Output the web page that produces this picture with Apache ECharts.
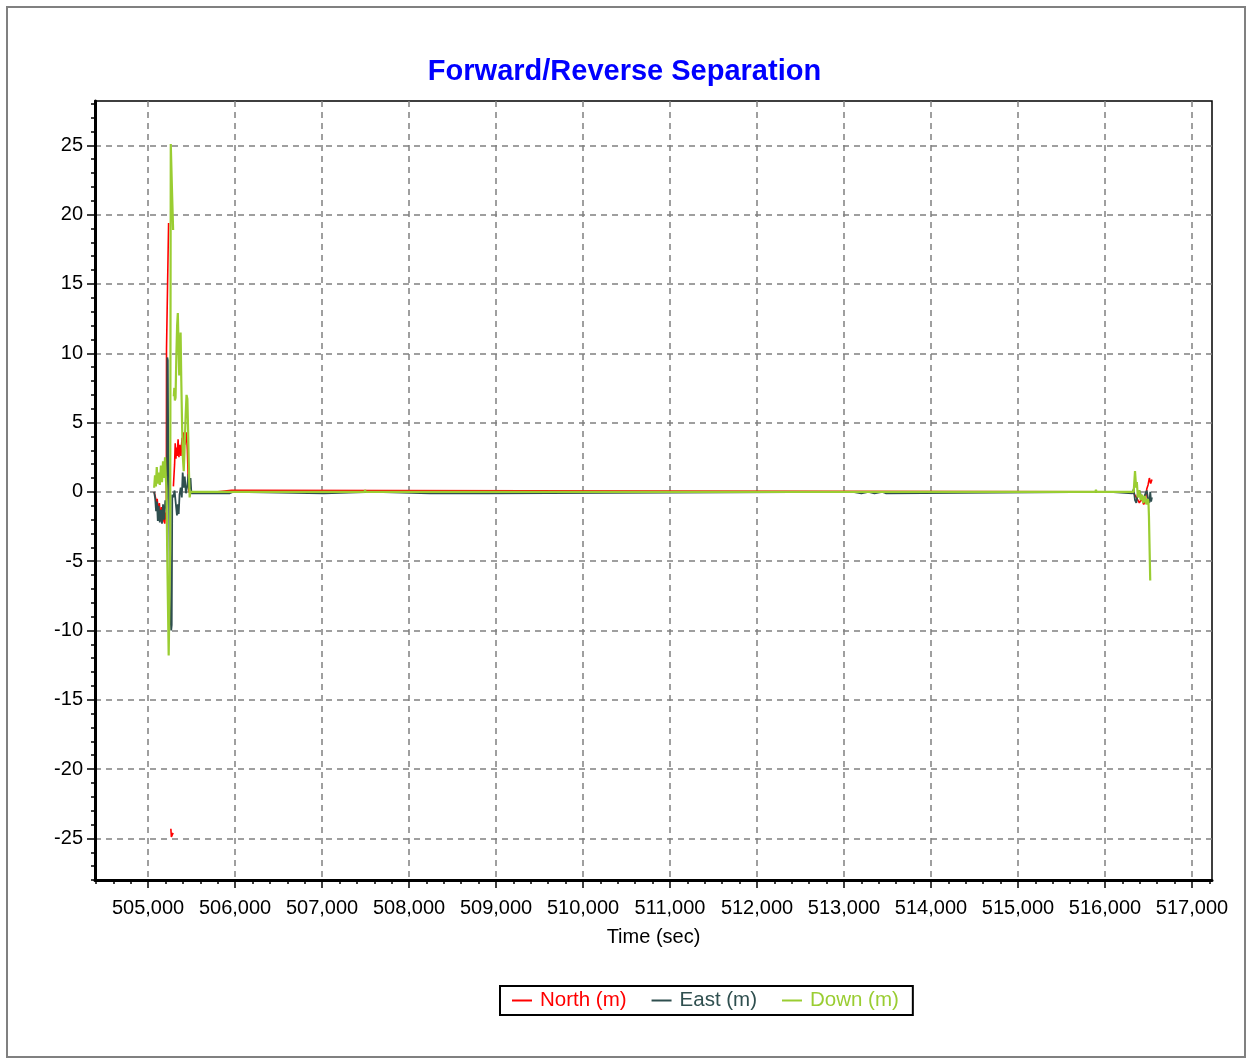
<!DOCTYPE html>
<html>
<head>
<meta charset="utf-8">
<script src="https://cdn.jsdelivr.net/npm/echarts@6/dist/echarts.min.js"></script>
<style>
html,body{margin:0;padding:0;background:#fff;}
#chart{width:1249px;height:1060px;}
</style>
</head>
<body>
<div id="chart"></div>
<script>
// ---- data (time in sec, values in m) ----
const seriesNames = ['North (m)', 'East (m)', 'Down (m)'];
const xTickValues = [505000,506000,507000,508000,509000,510000,511000,512000,513000,514000,515000,516000,517000];
const yTickValues = [-25,-20,-15,-10,-5,0,5,10,15,20,25];

const north = [
 [505070,0],[505085,-0.4],[505095,-0.9],[505105,-0.5],[505118,-1.6],[505130,-0.8],[505142,-2.0],[505155,-1.1],
 [505168,-2.2],[505180,-1.4],[505192,-2.3],[505202,-1.5],[505210,-1.8],[505212,10.3],[505234,10.3],[505236,19.4],[505242,19.4],
 null,[505262,-24.3],[505268,-24.9],[505288,-24.6],null,
 [505291,0.4],[505298,1.2],[505305,2.0],[505312,3.5],[505320,2.4],[505328,3.2],[505335,2.6],[505345,3.8],[505355,2.5],
 [505365,3.4],[505378,2.6],[505390,3.9],[505400,3.3],[505412,4.3],[505425,3.4],[505440,4.3],[505452,3.0],[505460,1.2],
 [505470,0],[505800,0],[505806,0.12],[505960,0.12],[505966,0],[516160,0],[516165,0.08],[516180,0.08],[516185,0],
 [516320,0],[516340,-0.2],[516370,-0.5],[516395,-0.8],[516420,-0.5],[516445,-0.9],[516465,-0.6],[516480,0.2],
 [516495,0.5],[516510,1.0],[516525,0.6],[516540,0.9]
];

const east = [
 [505070,0],[505082,-0.5],[505092,-1.4],[505102,-0.7],[505112,-2.1],[505122,-1.0],[505135,-2.2],[505148,-1.3],
 [505160,-2.3],[505172,-0.9],[505185,-2.0],[505198,-0.6],[505208,-1.2],[505218,-0.4],[505221,9.7],[505227,9.5],
 [505232,2.8],[505240,1.0],[505252,-8.7],[505260,-9.2],[505266,-10.0],[505272,-9.6],[505278,-0.2],[505290,-0.4],
 [505305,0.1],[505318,-0.8],[505332,-1.7],[505342,-0.9],[505352,-1.6],[505362,-0.2],[505375,0.3],[505388,-0.4],
 [505398,1.4],[505410,0.3],[505422,1.1],[505435,-0.1],[505450,0.4],[505465,1.3],[505475,0.2],[505488,1.0],
 [505498,-0.1],[505940,-0.1],[505945,0],[505975,0],[505980,-0.1],[507020,-0.1],[507025,0],[507595,0],
 [507600,-0.1],[508240,-0.1],[508245,0],[508262,0],[508267,-0.1],[508900,-0.1],[508905,0],[513100,0],
 [513105,-0.1],[513200,-0.1],[513205,0],[513280,0],[513285,-0.1],[513350,-0.1],[513355,0],[513440,0],
 [513445,-0.1],[513480,-0.1],[513485,0],[516050,0],[516055,-0.1],[516315,-0.1],[516330,0.2],[516345,-0.6],
 [516360,-0.8],[516375,-0.2],[516395,0.1],[516415,-0.3],[516440,-0.6],[516460,-0.2],[516480,0.1],[516495,-0.5],
 [516510,-0.8],[516520,0.0],[516530,-0.7],[516540,-0.4]
];

const down = [
 [505070,0.3],[505080,1.2],[505090,0.4],[505100,1.8],[505110,0.6],[505122,1.4],[505135,0.5],[505148,1.9],
 [505160,0.7],[505172,2.2],[505185,1.0],[505195,2.5],[505205,0.9],[505212,0.2],[505220,-4.3],[505234,-4.3],
 [505237,-11.8],[505250,-11.8],[505254,-4],[505261,25.1],[505272,25.1],[505274,22.0],[505286,22.0],[505288,18.9],
 null,[505296,6.9],[505302,7.5],[505308,6.6],[505316,6.8],[505324,9.5],[505334,12.0],[505342,12.9],[505350,13.0],
 [505358,8.4],[505366,9.5],[505374,11.5],[505382,8.0],[505392,4.5],[505400,2.5],[505410,1.5],[505420,3.2],
 [505432,5.5],[505442,7.0],[505452,6.7],[505462,4.0],[505470,1.5],[505478,-0.4],[505486,0],[505640,0],
 [505642,-0.06],[505660,-0.06],[505662,0],[507490,0],[507494,0.15],[507500,0],[515890,0],[515896,0.15],
 [515902,0],[516330,0],[516345,1.5],[516352,1.5],[516358,0.3],[516366,0.7],[516378,-0.4],[516395,0.1],
 [516410,-0.6],[516425,-0.2],[516440,-0.8],[516458,-0.3],[516475,-0.9],[516492,-0.5],[516500,-0.8],
 [516505,-1.7],[516515,-1.7],[516520,-6.4]
];

const seriesColors = ['#FF0000', '#2F4F4F', '#9ACD32'];
const seriesWidths = [1.6, 1.8, 2.2];

// ---- axes ----
const xMin = 504390, xMax = 517230, yMin = -28, yMax = 28.2;
const xMinor = []; for (let v = 504400; v <= 517200; v += 200) xMinor.push(v);
const yMinor = []; for (let v = -28; v <= 28; v += 1) yMinor.push(v);

const FONT = '"Liberation Sans", Arial, sans-serif';
const chart = echarts.init(document.getElementById('chart'), null, {renderer: 'canvas'});
const splitStyle = {type: [6, 5], color: '#808080', width: 1.5};

chart.setOption({
  animation: false,
  backgroundColor: '#fff',
  textStyle: {fontFamily: FONT},
  title: {
    text: 'Forward/Reverse Separation',
    left: 'center', top: 52,
    textStyle: {color: '#0000FF', fontSize: 29, fontWeight: 'bold', fontFamily: FONT}
  },
  graphic: [{
    type: 'rect', silent: true,
    shape: {x: 7, y: 7, width: 1238, height: 1050},
    style: {fill: 'none', stroke: '#808080', lineWidth: 2}
  }],
  grid: {
    left: 95, right: 37, top: 101, bottom: 180,
    show: true, borderColor: '#000', borderWidth: 1.5, backgroundColor: 'transparent',
    containLabel: false
  },
  legend: {
    left: 500, top: 986,
    itemWidth: 20, itemHeight: 2, itemGap: 25, icon: 'rect',
    borderColor: '#000', borderWidth: 2, padding: [4, 14, 4, 12],
    textStyle: {fontSize: 20.5, fontFamily: FONT, padding: [0, 0, 0, 3]},
    data: seriesNames.map((n, i) => ({name: n, textStyle: {color: seriesColors[i]}}))
  },
  xAxis: [{
    type: 'value', min: xMin, max: xMax, splitNumber: 13,
    axisLine: {show: true, onZero: false, lineStyle: {color: '#000', width: 3}},
    axisTick: {show: true, length: 8, customValues: xTickValues, lineStyle: {color: '#000', width: 1.5}},
    axisLabel: {customValues: xTickValues, fontSize: 20, color: '#000', margin: 18, fontFamily: FONT,
      formatter: v => Number(v).toLocaleString('en-US')},
    splitLine: {show: true, lineStyle: splitStyle},
    name: 'Time (sec)', nameLocation: 'middle', nameGap: 47,
    nameTextStyle: {fontSize: 20, color: '#000', fontFamily: FONT}
  }, {
    type: 'value', min: xMin, max: xMax, position: 'bottom', offset: 0,
    axisLine: {show: false, onZero: false},
    axisTick: {show: true, length: 4, customValues: xMinor, lineStyle: {color: '#000', width: 1.5}},
    axisLabel: {show: false}, splitLine: {show: false}
  }],
  yAxis: [{
    type: 'value', min: yMin, max: yMax, splitNumber: 11,
    axisLine: {show: true, onZero: false, lineStyle: {color: '#000', width: 3}},
    axisTick: {show: true, length: 8, customValues: yTickValues, lineStyle: {color: '#000', width: 1.5}},
    axisLabel: {customValues: yTickValues, fontSize: 20, color: '#000', margin: 12, fontFamily: FONT},
    splitLine: {show: true, lineStyle: splitStyle}
  }, {
    type: 'value', min: yMin, max: yMax, position: 'left', offset: 0,
    axisLine: {show: false, onZero: false},
    axisTick: {show: true, length: 4, customValues: yMinor, lineStyle: {color: '#000', width: 1.5}},
    axisLabel: {show: false}, splitLine: {show: false}
  }],
  series: [north, east, down].map((d, i) => ({
    name: seriesNames[i], type: 'line', data: d,
    xAxisIndex: 0, yAxisIndex: 0,
    z: 2 + i,
    showSymbol: false, symbol: 'none', connectNulls: false, smooth: false,
    color: seriesColors[i],
    lineStyle: {color: seriesColors[i], width: seriesWidths[i]},
    emphasis: {disabled: true}
  }))
});
</script>
</body>
</html>
